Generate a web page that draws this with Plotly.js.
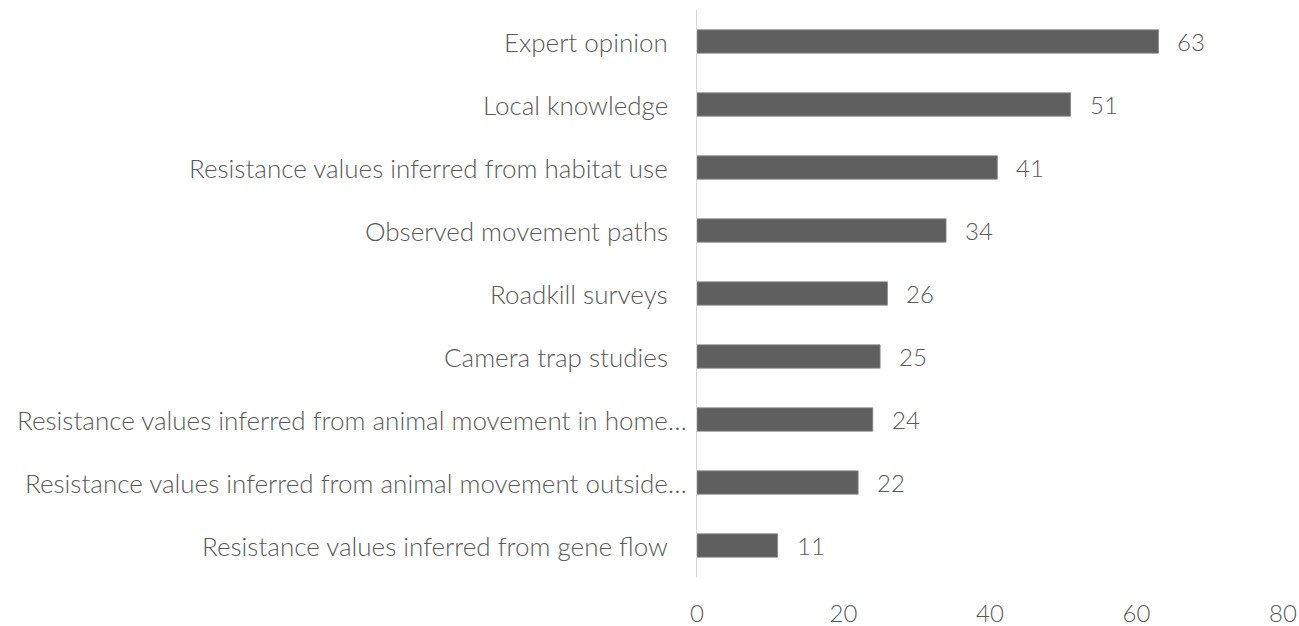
<!DOCTYPE html>
<html>
<head>
<meta charset="utf-8">
<script src="https://cdn.plot.ly/plotly-3.0.1.min.js"></script>
<style>html,body{margin:0;padding:0;background:#fff;}#chart{width:1299px;height:626px;}</style>
</head>
<body>
<div id="chart"></div>
<script>
const categories = [
  "Expert opinion",
  "Local knowledge",
  "Resistance values inferred from habitat use",
  "Observed movement paths",
  "Roadkill surveys",
  "Camera trap studies",
  "Resistance values inferred from animal movement in home…",
  "Resistance values inferred from animal movement outside…",
  "Resistance values inferred from gene flow"
];
const values = [63, 51, 41, 34, 26, 25, 24, 22, 11];
const xTicks = [0, 20, 40, 60, 80];

const fontFam = "Lato, sans-serif";
const txtColor = "#595959";
const fs = 26;

const valueLabels = categories.map((c, i) => ({
  x: values[i], y: c, xref: "x", yref: "y",
  text: String(values[i]), showarrow: false,
  xanchor: "left", yanchor: "middle", xshift: 17,
  font: {family: fontFam, size: 24, color: txtColor, weight: 300}
}));

const catLabels = categories.map(c => ({
  x: 0, y: c, xref: "paper", yref: "y",
  text: c, showarrow: false,
  xanchor: "right", yanchor: "middle",
  xshift: c.endsWith("…") ? -8 : -27,
  font: {family: fontFam, size: fs, color: txtColor, weight: 300}
}));

const trace = {
  type: "bar", orientation: "h",
  x: values, y: categories,
  marker: {color: "#5f5f5f", line: {color: "#8a8a8a", width: 0.8}},
  hoverinfo: "x+y"
};

const layout = {
  width: 1299, height: 626,
  margin: {l: 697, r: 16, t: 10, b: 49},
  paper_bgcolor: "#fff", plot_bgcolor: "#fff",
  bargap: 0.63,
  showlegend: false,
  font: {family: fontFam, color: txtColor, size: fs, weight: 300},
  xaxis: {
    range: [0, 80], tickvals: xTicks, ticktext: xTicks.map(String),
    showgrid: false, zeroline: false, showline: false,
    ticks: "", ticklabelstandoff: 20,
    tickfont: {family: fontFam, size: 24, color: txtColor, weight: 300}
  },
  yaxis: {
    categoryorder: "array", categoryarray: categories.slice().reverse(),
    autorange: false, range: [-0.5, 8.5],
    showgrid: false, zeroline: false,
    showline: true, linecolor: "#d9d9d9", linewidth: 1.5,
    ticks: "", showticklabels: false
  },
  annotations: catLabels.concat(valueLabels)
};

Plotly.newPlot("chart", [trace], layout, {displayModeBar: false, staticPlot: true});
</script>
</body>
</html>
